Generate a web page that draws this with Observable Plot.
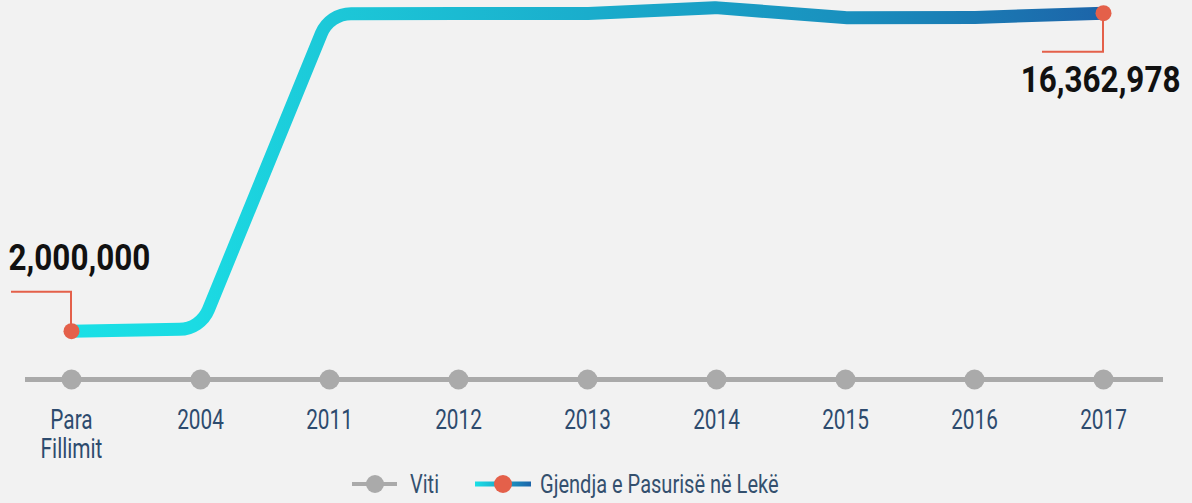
<!DOCTYPE html>
<html>
<head>
<meta charset="utf-8">
<script src="https://cdn.jsdelivr.net/npm/d3@7"></script>
<script src="https://cdn.jsdelivr.net/npm/@observablehq/plot@0.6"></script>
<style>
  html, body { margin: 0; padding: 0; background: #f2f2f2; }
  body { width: 1192px; height: 503px; overflow: hidden; font-family: Roboto, sans-serif; }
  #legend { display: block; }
</style>
</head>
<body>
<div id="chart"></div>
<svg id="legend" width="1192" height="38" font-family="Roboto, sans-serif">
  <defs><linearGradient id="legGrad" x1="0" x2="1" y1="0" y2="0"><stop offset="0" stop-color="#1ae0e6"/><stop offset="1" stop-color="#1c64a9"/></linearGradient></defs>
  <line x1="352" x2="397" y1="19" y2="19" stroke="#aaaaaa" stroke-width="4"/>
  <circle cx="375" cy="19" r="9" fill="#aaaaaa"/>
  <text x="410" y="28" font-size="26" fill="#34506e">Viti</text>
  <rect x="475" y="16.5" width="56" height="5" fill="url(#legGrad)"/>
  <circle cx="503" cy="19" r="9" fill="#e4604a"/>
  <text x="540" y="28" font-size="26" fill="#34506e">Gjendja e Pasurisë në Lekë</text>
</svg>
<script>
const categories = ["Para Fillimit", "2004", "2011", "2012", "2013", "2014", "2015", "2016", "2017"];
const tickLabels = ["Para\nFillimit", "2004", "2011", "2012", "2013", "2014", "2015", "2016", "2017"];
const wealth = [2000000, 2100000, 16340000, 16345000, 16350000, 16610000, 16160000, 16170000, 16362978];
const valueLabels = ["2,000,000", "16,362,978"];

const data = categories.map((c, i) => ({cat: c, value: wealth[i], tick: tickLabels[i]}));
const first = data[0], last = data[data.length - 1];
const labelOf = Object.fromEntries(data.map(d => [d.cat, d.tick]));

// straight segments with rounded corners
function roundedCurve(r) {
  return function(context) {
    let pts = [];
    return {
      areaStart() {}, areaEnd() {},
      lineStart() { pts = []; },
      lineEnd() {
        const n = pts.length;
        if (!n) return;
        context.moveTo(pts[0][0], pts[0][1]);
        for (let i = 1; i < n - 1; i++) context.arcTo(pts[i][0], pts[i][1], pts[i + 1][0], pts[i + 1][1], r);
        if (n > 1) context.lineTo(pts[n - 1][0], pts[n - 1][1]);
      },
      point(x, y) { pts.push([+x, +y]); }
    };
  };
}

function callout(d, dy, dx) {
  return (index, scales) => {
    const x = scales.x(d.cat), y = scales.y(d.value);
    const p = d3.create("svg:path")
      .attr("d", `M${x},${y}V${y + dy}H${x + dx}`)
      .attr("fill", "none").attr("stroke", "#e4604a").attr("stroke-width", 2);
    return p.node();
  };
}

const plot = Plot.plot({
  width: 1192,
  height: 465,
  marginTop: 3,
  marginBottom: 90,
  marginLeft: 70,
  marginRight: 88,
  style: {background: "transparent", fontFamily: "Roboto, sans-serif", overflow: "visible"},
  x: {type: "point", domain: categories, padding: 0, label: null},
  y: {domain: [0, 16800000], axis: null},
  marks: [
    Plot.axisX({tickSize: 0, tickPadding: 33, fontSize: 27, fill: "#2d4b6e", lineHeight: 1.07, tickFormat: d => labelOf[d], textStroke: "none", label: null}),
    Plot.ruleY([0], {dy: 4, stroke: "#aaaaaa", strokeWidth: 5, insetLeft: -45, insetRight: -59}),
    Plot.dot(data, {x: "cat", y: () => 0, dy: 4, r: 10, fill: "#aaaaaa"}),
    callout(first, -39, -60),
    callout(last, 39, -61),
    Plot.line(data, {x: "cat", y: "value", stroke: "url(#lineGrad)", strokeWidth: 13, curve: roundedCurve(32), strokeLinecap: "butt"}),
    Plot.dot([first, last], {x: "cat", y: "value", r: 8, fill: "#e4604a"}),
    Plot.text([first], {x: "cat", y: "value", text: () => valueLabels[0], dx: -63, dy: -61, textAnchor: "start", lineAnchor: "bottom", fontSize: 37, fontWeight: "bold", fill: "#111", className: "value-label"}),
    Plot.text([last], {x: "cat", y: "value", text: () => valueLabels[1], dx: 77, dy: 79, textAnchor: "end", lineAnchor: "bottom", fontSize: 37, fontWeight: "bold", fill: "#111", className: "value-label"})
  ]
});

d3.select(plot).insert("defs", ":first-child").html(
  `<linearGradient id="lineGrad" x1="0" x2="1" y1="0" y2="0">
     <stop offset="0" stop-color="#1ae0e6"/>
     <stop offset="0.12" stop-color="#1bdbe3"/>
     <stop offset="0.25" stop-color="#1cc8d8"/>
     <stop offset="0.5" stop-color="#1aadcc"/>
     <stop offset="0.75" stop-color="#1990be"/>
     <stop offset="1" stop-color="#1c64a9"/>
   </linearGradient>`);

document.getElementById("chart").appendChild(plot);

// condense glyphs horizontally (Oswald-like narrow look)
function condense(nodes, k) {
  nodes.forEach(t => {
    if (t.hasAttribute("textLength")) return;
    const spans = t.querySelectorAll("tspan");
    const targets = spans.length ? Array.from(spans) : [t];
    targets.forEach(el => {
      const len = el.getComputedTextLength();
      if (len > 0) {
        el.setAttribute("textLength", (len * k).toFixed(1));
        el.setAttribute("lengthAdjust", "spacingAndGlyphs");
      }
    });
  });
}
condense(plot.querySelectorAll(".value-label text"), 0.85);
condense(plot.querySelectorAll("text"), 0.77);
condense(document.querySelectorAll("#legend text"), 0.77);
</script>
</body>
</html>
